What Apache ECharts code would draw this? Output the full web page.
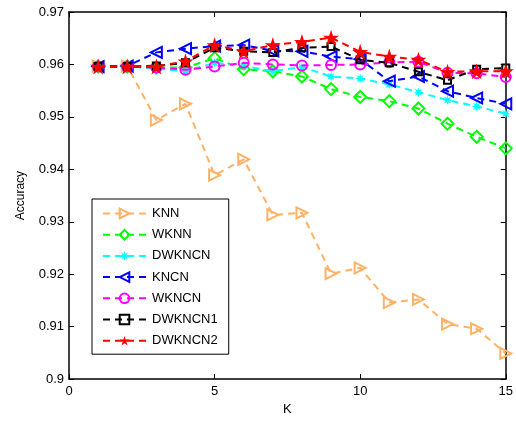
<!DOCTYPE html>
<html>
<head>
<meta charset="utf-8">
<script src="https://cdn.jsdelivr.net/npm/echarts@6/dist/echarts.min.js"></script>
<style>
html,body{margin:0;padding:0;background:#fff;}
#chart{width:516px;height:421px;}
</style>
</head>
<body>
<div id="chart"></div>
<script>
const K = [1,2,3,4,5,6,7,8,9,10,11,12,13,14,15];
const xTicks = [0,5,10,15];
const yTicks = [0.9,0.91,0.92,0.93,0.94,0.95,0.96,0.97];
const seriesNames = ['KNN','WKNN','DWKNCN','KNCN','WKNCN','DWKNCN1','DWKNCN2'];
const knn     = [0.9597,0.9597,0.9494,0.9525,0.9389,0.9419,0.9313,0.9317,0.9201,0.9212,0.9146,0.9152,0.9105,0.9096,0.9049];
const wknn    = [0.9596,0.9596,0.9594,0.9594,0.9612,0.9591,0.9587,0.9577,0.9553,0.9538,0.9530,0.9516,0.9487,0.9462,0.9440];
const dwkncn  = [0.9596,0.9596,0.9592,0.9587,0.9603,0.9597,0.9587,0.9595,0.9577,0.9573,0.9562,0.9547,0.9532,0.9520,0.9506];
const kncn    = [0.9596,0.9597,0.9623,0.9630,0.9635,0.9637,0.9626,0.9625,0.9615,0.9610,0.9568,0.9577,0.9549,0.9536,0.9525];
const wkncn   = [0.9596,0.9596,0.9594,0.9590,0.9596,0.9603,0.9600,0.9598,0.9599,0.9600,0.9604,0.9605,0.9584,0.9583,0.9576];
const dwkncn1 = [0.9596,0.9596,0.9597,0.9603,0.9632,0.9625,0.9623,0.9632,0.9634,0.9609,0.9603,0.9586,0.9570,0.9591,0.9593];
const dwkncn2 = [0.9596,0.9596,0.9596,0.9606,0.9637,0.9625,0.9637,0.9643,0.9651,0.9624,0.9615,0.9609,0.9586,0.9587,0.9587];
const allValues = [knn,wknn,dwkncn,kncn,wkncn,dwkncn1,dwkncn2];

function starPath(n, inner){
  let d = 'path://';
  for (let i=0;i<2*n;i++){
    const r = i%2===0 ? 1 : inner;
    const a = -Math.PI/2 + i*Math.PI/n;
    d += (i===0?'M':'L') + (r*Math.cos(a)).toFixed(4) + ',' + (r*Math.sin(a)).toFixed(4) + ' ';
  }
  return d + 'Z';
}
const STAR = starPath(5, 0.382);
const AST = starPath(8, 0.45);

const styles = [
  {color:'#FFB266', symbol:'triangle', rotate:-90, size:11, hollow:true},
  {color:'#00FF00', symbol:'diamond', rotate:0, size:12, hollow:true},
  {color:'#00FFFF', symbol:AST, rotate:0, size:10, hollow:false},
  {color:'#0000FF', symbol:'triangle', rotate:90, size:11, hollow:true},
  {color:'#FF00FF', symbol:'circle', rotate:0, size:10, hollow:true},
  {color:'#000000', symbol:'rect', rotate:0, size:7, hollow:true},
  {color:'#FF0000', symbol:STAR, rotate:0, size:16, hollow:false}
];

const font = 'Liberation Sans, Arial, sans-serif';
const series = seriesNames.map((name,i)=>{
  const s = styles[i];
  return {
    name: name,
    type: 'line',
    data: K.map((k,j)=>[k, allValues[i][j]]),
    symbol: s.symbol,
    symbolSize: s.size,
    symbolRotate: s.rotate,
    showAllSymbol: true,
    lineStyle: {color: s.color, width: 2, type: [7,5]},
    itemStyle: s.hollow ? {color: 'rgba(255,255,255,0)', borderColor: s.color, borderWidth: 2}
                        : {color: s.color, borderColor: s.color, borderWidth: 0},
    emphasis: {disabled: true},
    z: 2 + i
  };
});

const axisCommon = {
  axisLine: {show: true, onZero: false, lineStyle: {color: '#000', width: 1.5}},
  axisTick: {show: true, inside: true, length: 5, lineStyle: {color: '#000'}},
  splitLine: {show: false}
};

const chart = echarts.init(document.getElementById('chart'), null, {renderer: 'canvas'});
chart.setOption({
  animation: false,
  backgroundColor: '#fff',
  textStyle: {fontFamily: font},
  grid: {left: 69, right: 7, top: 12, bottom: 40, containLabel: false},
  legend: {
    data: seriesNames,
    orient: 'vertical',
    left: 92, top: 199,
    padding: [8, 11, 7, 10],
    itemWidth: 43, itemHeight: 12, itemGap: 8.2,
    borderColor: '#000', borderWidth: 1,
    backgroundColor: '#fff',
    textStyle: {fontFamily: font, fontSize: 13, color: '#000', padding: [0,0,0,1]},
    selectedMode: false
  },
  xAxis: [
    Object.assign({
      type: 'value', min: xTicks[0], max: xTicks[xTicks.length-1], interval: 5,
      position: 'bottom',
      name: 'K', nameLocation: 'middle', nameGap: 23,
      nameTextStyle: {fontFamily: font, fontSize: 13, color: '#000'},
      axisLabel: {fontFamily: font, fontSize: 13, color: '#000', margin: 6}
    }, axisCommon),
    Object.assign({
      type: 'value', min: xTicks[0], max: xTicks[xTicks.length-1], interval: 5,
      position: 'top', axisLabel: {show: false}
    }, axisCommon)
  ],
  yAxis: [
    Object.assign({
      type: 'value', min: yTicks[0], max: yTicks[yTicks.length-1], interval: 0.01,
      position: 'left',
      name: 'Accuracy', nameLocation: 'middle', nameGap: 42,
      nameTextStyle: {fontFamily: font, fontSize: 12, color: '#000'},
      axisLabel: {fontFamily: font, fontSize: 13, color: '#000', margin: 5,
        formatter: v => String(parseFloat(v.toFixed(2)))}
    }, axisCommon),
    Object.assign({
      type: 'value', min: yTicks[0], max: yTicks[yTicks.length-1], interval: 0.01,
      position: 'right', axisLabel: {show: false}
    }, axisCommon)
  ],
  series: series
});
</script>
</body>
</html>
